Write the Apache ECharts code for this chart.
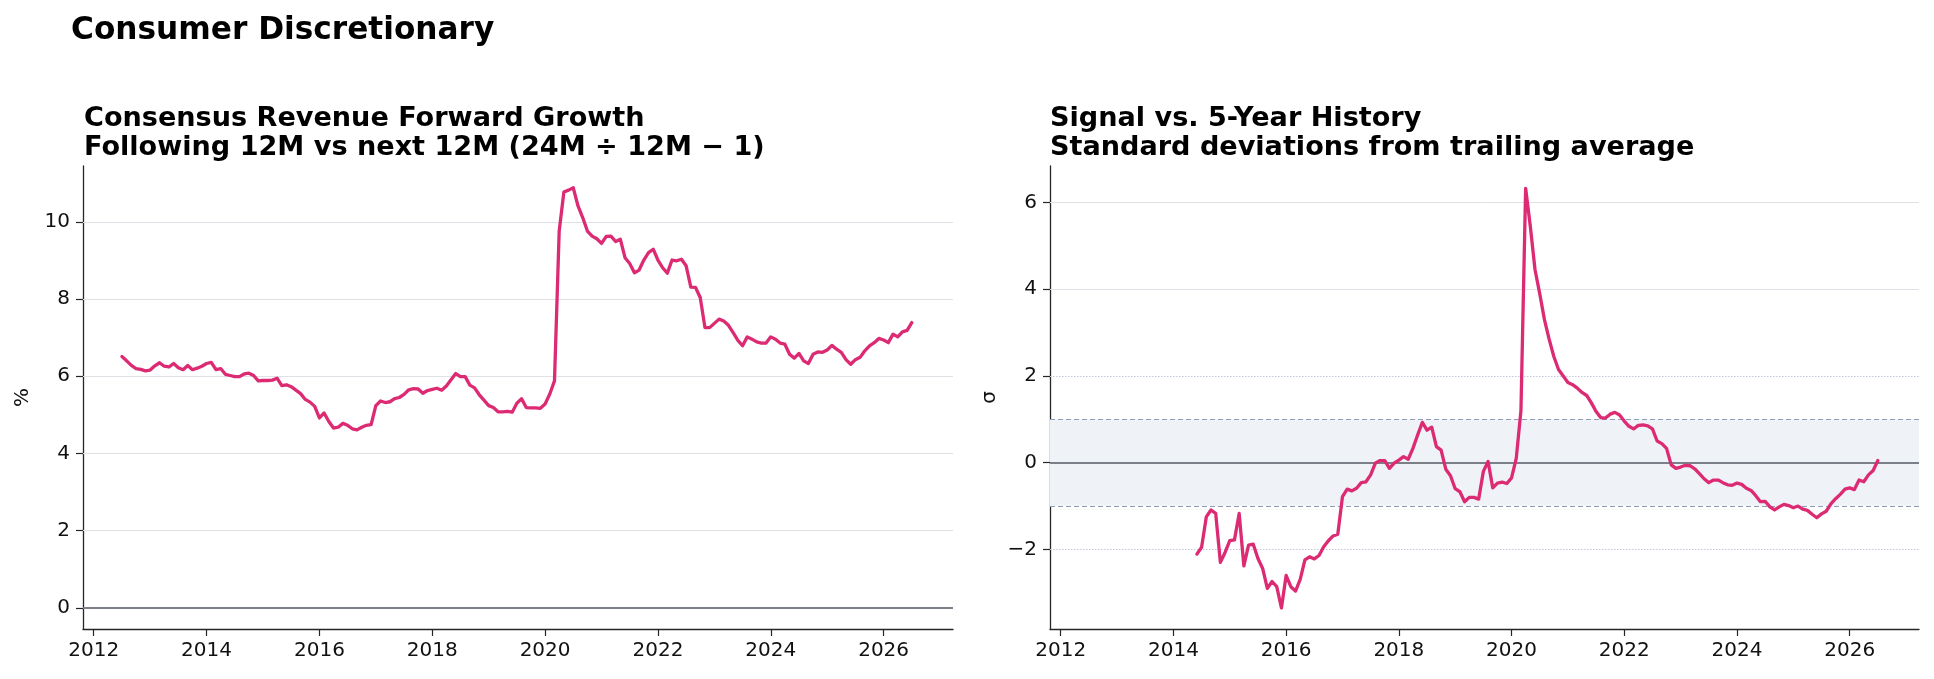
<!DOCTYPE html>
<html>
<head>
<meta charset="utf-8">
<title>Consumer Discretionary</title>
<script src="https://cdn.jsdelivr.net/npm/echarts@6/dist/echarts.min.js"></script>
<style>
  html, body { margin: 0; padding: 0; background: #fff; }
  #chart { width: 1934px; height: 679px; }
</style>
</head>
<body>
<div id="chart"></div>
<script>
// monthly series, first point = July 2012
const startYear = 2012;
const startMonth = 7;

// Consensus revenue forward growth, %
const growthValues = [
  6.51, 6.40, 6.28, 6.20, 6.18, 6.14, 6.16, 6.27, 6.35, 6.26,
  6.24, 6.33, 6.22, 6.17, 6.28, 6.17, 6.21, 6.26, 6.33, 6.36,
  6.17, 6.20, 6.05, 6.02, 5.99, 5.99, 6.06, 6.08, 6.02, 5.88,
  5.89, 5.89, 5.90, 5.95, 5.76, 5.78, 5.73, 5.64, 5.55, 5.40,
  5.33, 5.22, 4.92, 5.05, 4.83, 4.66, 4.68, 4.78, 4.73, 4.64,
  4.61, 4.68, 4.73, 4.75, 5.24, 5.36, 5.32, 5.34, 5.42, 5.45,
  5.53, 5.65, 5.68, 5.67, 5.56, 5.63, 5.66, 5.69, 5.64, 5.75,
  5.91, 6.07, 5.99, 5.99, 5.77, 5.70, 5.52, 5.38, 5.24, 5.19,
  5.08, 5.08, 5.09, 5.07, 5.30, 5.42, 5.19, 5.18, 5.18, 5.17,
  5.28, 5.54, 5.88, 9.76, 10.77, 10.82, 10.88, 10.41, 10.11, 9.76,
  9.63, 9.56, 9.44, 9.62, 9.63, 9.49, 9.55, 9.07, 8.92, 8.68,
  8.75, 9.01, 9.20, 9.29, 9.01, 8.81, 8.67, 9.01, 8.99, 9.03,
  8.86, 8.31, 8.30, 8.04, 7.26, 7.26, 7.37, 7.48, 7.43, 7.32,
  7.13, 6.93, 6.79, 7.02, 6.96, 6.89, 6.86, 6.86, 7.02, 6.96,
  6.86, 6.83, 6.57, 6.47, 6.59, 6.40, 6.33, 6.57, 6.63, 6.62,
  6.68, 6.80, 6.70, 6.62, 6.43, 6.31, 6.43, 6.49, 6.66, 6.79,
  6.87, 6.98, 6.94, 6.87, 7.09, 7.02, 7.15, 7.19, 7.39
];

// z-score vs trailing 5y history, starts June 2014 (month index 23)
const sigmaOffset = 23;
const sigmaValues = [
  -2.11, -1.95, -1.25, -1.09, -1.17, -2.30, -2.07, -1.80, -1.78, -1.17,
  -2.38, -1.90, -1.88, -2.21, -2.44, -2.90, -2.74, -2.86, -3.35, -2.60,
  -2.86, -2.96, -2.69, -2.24, -2.17, -2.22, -2.14, -1.94, -1.80, -1.69,
  -1.65, -0.78, -0.61, -0.65, -0.59, -0.46, -0.44, -0.28, -0.01, 0.05,
  0.05, -0.13, -0.01, 0.06, 0.14, 0.08, 0.33, 0.64, 0.93, 0.75,
  0.82, 0.37, 0.29, -0.15, -0.30, -0.60, -0.67, -0.90, -0.80, -0.80,
  -0.84, -0.20, 0.03, -0.58, -0.47, -0.45, -0.48, -0.35, 0.10, 1.20,
  6.33, 5.45, 4.45, 3.90, 3.30, 2.85, 2.45, 2.15, 2.00, 1.85,
  1.80, 1.72, 1.62, 1.55, 1.38, 1.18, 1.04, 1.03, 1.12, 1.16,
  1.10, 0.96, 0.84, 0.78, 0.86, 0.87, 0.85, 0.78, 0.50, 0.44,
  0.33, -0.05, -0.13, -0.10, -0.06, -0.07, -0.14, -0.25, -0.37, -0.46,
  -0.40, -0.40, -0.46, -0.51, -0.52, -0.47, -0.50, -0.59, -0.64, -0.76,
  -0.90, -0.89, -1.02, -1.09, -1.02, -0.96, -0.99, -1.04, -1.00, -1.07,
  -1.10, -1.19, -1.27, -1.18, -1.12, -0.95, -0.83, -0.73, -0.61, -0.58,
  -0.62, -0.40, -0.44, -0.28, -0.18, 0.05
];

const yearTicks = [2012, 2014, 2016, 2018, 2020, 2022, 2024, 2026];
const growthTicks = [0, 2, 4, 6, 8, 10];
const sigmaTicks = [-2, 0, 2, 4, 6];
const sigmaGrid = [4, 6];
const sigmaDotted = [-2, 2];
const sigmaBand = [-1, 1];

const FONT = 'DejaVu Sans';
const LINE_COLOR = '#dc2a73';
const AXIS_COLOR = '#262626';
const GRID_COLOR = '#dfe1e7';
const ZERO_COLOR = '#7b7f88';

// decimal year for each month
const dates = growthValues.map((v, i) => startYear + (startMonth - 1 + i) / 12);
const growthData = growthValues.map((v, i) => [dates[i], v]);
const sigmaData = sigmaValues.map((v, i) => [dates[sigmaOffset + i], v]);

function xAxisFor(gridIndex) {
  return {
    type: 'value', gridIndex: gridIndex,
    min: 2011.81, max: 2027.23,
    axisLine: { show: true, onZero: false, lineStyle: { color: AXIS_COLOR, width: 1.3 } },
    axisTick: { show: true, length: 7, customValues: yearTicks, lineStyle: { color: AXIS_COLOR, width: 1.2 } },
    axisLabel: { customValues: yearTicks, margin: 12, color: '#111', fontFamily: FONT, fontSize: 20,
      formatter: v => String(v) },
    splitLine: { show: false }
  };
}

function yAxisFor(gridIndex, min, max, ticks, name) {
  return {
    type: 'value', gridIndex: gridIndex, min: min, max: max,
    name: name, nameLocation: 'middle', nameRotate: 90, nameGap: 50,
    nameTextStyle: { color: '#111', fontFamily: FONT, fontSize: 20 },
    axisLine: { show: true, lineStyle: { color: AXIS_COLOR, width: 1.3 } },
    axisTick: { show: true, length: 7, customValues: ticks, lineStyle: { color: AXIS_COLOR, width: 1.2 } },
    axisLabel: { customValues: ticks, margin: 13, color: '#111', fontFamily: FONT, fontSize: 20,
      formatter: v => (v < 0 ? '\u2212' + Math.abs(v) : String(v)) },
    splitLine: { show: false }
  };
}

function hline(y, color, width, type) {
  return { yAxis: y, lineStyle: { color: color, width: width, type: type } };
}

const chart = echarts.init(document.getElementById('chart'), null, { renderer: 'canvas' });

const option = {
  backgroundColor: '#fff',
  animation: false,
  title: [
    { text: 'Consumer Discretionary', left: 71, top: 15, padding: 0,
      textStyle: { fontFamily: FONT, fontSize: 31.2, fontWeight: 'bold', color: '#000', lineHeight: 32 } },
    { text: 'Consensus Revenue Forward Growth\nFollowing 12M vs next 12M (24M \u00f7 12M \u2212 1)',
      left: 84, top: 104, padding: 0,
      textStyle: { fontFamily: FONT, fontSize: 27.1, fontWeight: 'bold', color: '#000', lineHeight: 29.5 } },
    { text: 'Signal vs. 5-Year History\nStandard deviations from trailing average',
      left: 1050, top: 104, padding: 0,
      textStyle: { fontFamily: FONT, fontSize: 27.1, fontWeight: 'bold', color: '#000', lineHeight: 29.5 } }
  ],
  grid: [
    { left: 83, top: 166, width: 870, height: 463 },
    { left: 1050, top: 166, width: 869, height: 463 }
  ],
  xAxis: [xAxisFor(0), xAxisFor(1)],
  yAxis: [
    yAxisFor(0, -0.545, 11.445, growthTicks, '%'),
    yAxisFor(1, -3.836, 6.844, sigmaTicks, '\u03c3')
  ],
  series: [
    {
      // reference lines for the growth panel
      type: 'line', xAxisIndex: 0, yAxisIndex: 0, z: 1, silent: true,
      data: growthData, showSymbol: false, lineStyle: { width: 0, opacity: 0 },
      markLine: {
        silent: true, symbol: 'none', label: { show: false }, animation: false,
        data: growthTicks.filter(t => t !== 0).map(t => hline(t, GRID_COLOR, 1, 'solid'))
          .concat([hline(0, ZERO_COLOR, 1.8, 'solid')])
      }
    },
    {
      type: 'line', xAxisIndex: 0, yAxisIndex: 0, z: 5,
      data: growthData, showSymbol: false, symbol: 'none',
      lineStyle: { color: LINE_COLOR, width: 3.3, join: 'round', cap: 'round' }
    },
    {
      // band and reference lines for the sigma panel
      type: 'line', xAxisIndex: 1, yAxisIndex: 1, z: 1, silent: true,
      data: sigmaData, showSymbol: false, lineStyle: { width: 0, opacity: 0 },
      markArea: {
        silent: true, itemStyle: { color: '#eff3f8' },
        data: [[{ yAxis: sigmaBand[0] }, { yAxis: sigmaBand[1] }]]
      },
      markLine: {
        silent: true, symbol: 'none', label: { show: false }, animation: false,
        data: sigmaGrid.map(t => hline(t, GRID_COLOR, 1, 'solid'))
          .concat(sigmaDotted.map(t => hline(t, '#bfc8da', 1, [1.5, 1.5])))
          .concat(sigmaBand.map(t => hline(t, '#8f9cb5', 1.2, [5, 3])))
          .concat([hline(0, ZERO_COLOR, 1.8, 'solid')])
      }
    },
    {
      type: 'line', xAxisIndex: 1, yAxisIndex: 1, z: 5,
      data: sigmaData, showSymbol: false, symbol: 'none',
      lineStyle: { color: LINE_COLOR, width: 3.3, join: 'round', cap: 'round' }
    }
  ]
};

chart.setOption(option);
</script>
</body>
</html>
